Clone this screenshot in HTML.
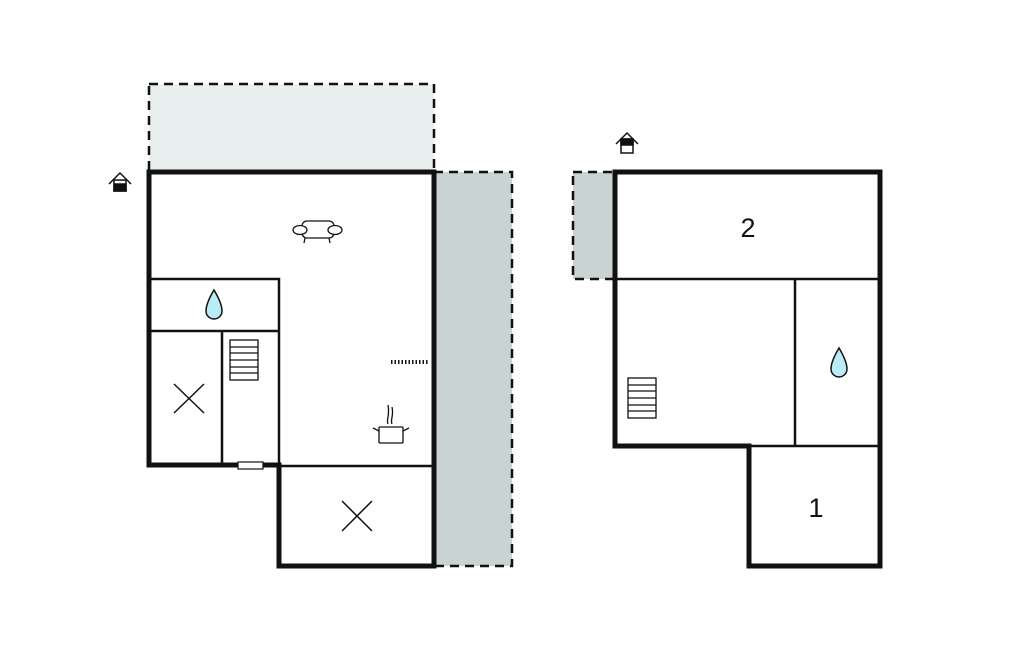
<!DOCTYPE html>
<html><head><meta charset="utf-8"><style>html,body{margin:0;padding:0;background:#fff}svg{display:block}</style></head>
<body>
<svg width="1024" height="652" viewBox="0 0 1024 652" xmlns="http://www.w3.org/2000/svg">
<rect width="1024" height="652" fill="#fff"/>
<!-- dashed areas -->
<rect x="149" y="84" width="285" height="88" fill="#e9eeee" stroke="#111" stroke-width="2.5" stroke-dasharray="9,6"/>
<rect x="434" y="172" width="78" height="394" fill="#c9d3d4" stroke="#111" stroke-width="2.5" stroke-dasharray="9,6"/>
<rect x="573" y="172" width="42" height="107" fill="#c9d3d4" stroke="#111" stroke-width="2.5" stroke-dasharray="9,6"/>
<g stroke="#111" fill="none" stroke-linecap="square">
<!-- left plan thin walls -->
<g stroke-width="2.5">
<path d="M149 279 H279 V465 M149 331 H279 M222 331 V465 M279 466 H434"/>
<path d="M615 279 H880 M795 279 V446 M749 446 H880"/>
</g>
<!-- thick walls -->
<g stroke-width="5">
<path d="M149 172 H434 V566 H279 V465 H149 Z"/>
<path d="M615 172 H880 V566 H749 V446 H615 Z"/>
</g>
</g>
<!-- door -->
<rect x="238" y="462" width="25" height="7" fill="#fff" stroke="#111" stroke-width="1.2"/>
<!-- dotted -->
<line x1="391" y1="362" x2="429" y2="362" stroke="#111" stroke-width="4" stroke-dasharray="1.5,2"/>
<!-- X marks -->
<g stroke="#111" stroke-width="1.5">
<path d="M174 384 L204 413 M204 384 L174 413"/>
<path d="M342 501 L372 531 M372 501 L342 531"/>
</g>
<!-- stairs -->
<g stroke="#111" stroke-width="1.3" fill="#fff">
<rect x="230" y="340" width="28" height="40"/>
<path d="M230 347 H258 M230 353 H258 M230 360 H258 M230 367 H258 M230 373 H258"/>
<rect x="628" y="378" width="28" height="40"/>
<path d="M628 385 H656 M628 391 H656 M628 398 H656 M628 405 H656 M628 411 H656"/>
</g>
<!-- drops -->
<g fill="#b9ecf4" stroke="#111" stroke-width="1.5">
<path d="M214 290 C208 300 206 306 206 311 A8 8 0 0 0 222 311 C222 306 220 300 214 290 Z"/>
<path d="M839 348 C833 358 831 364 831 369 A8 8 0 0 0 847 369 C847 364 845 358 839 348 Z"/>
</g>
<!-- sofa -->
<g stroke="#111" stroke-width="1.3" fill="#fff">
<rect x="302" y="221" width="32" height="17" rx="5"/>
<ellipse cx="300" cy="230" rx="7" ry="4.5"/>
<ellipse cx="335" cy="230" rx="7" ry="4.5"/>
<path d="M305 238 L304 243 M329 238 L330 243" fill="none"/>
</g>
<!-- pot -->
<g stroke="#111" stroke-width="1.3" fill="#fff">
<rect x="379" y="427" width="24" height="16" rx="1"/>
<path d="M379 431 L373 428 M403 431 L409 428 M388 424 C386 420 390 416 388 405 M392 424 C390 420 394 416 392 407" fill="none"/>
</g>
<!-- house icons -->
<g stroke="#111" stroke-width="1.5" fill="#fff">
<path d="M109 184 L120 173 L131 184" fill="none"/>
<rect x="114" y="180" width="12" height="11"/>
<rect x="114" y="184" width="12" height="7" fill="#111"/>
<path d="M616 144 L627 133 L638 144" fill="none"/>
<rect x="621" y="139" width="12" height="14"/>
<rect x="621" y="139" width="12" height="6" fill="#111"/>
</g>
<!-- labels -->
<text x="748" y="237" font-family="Liberation Sans, sans-serif" font-size="27" text-anchor="middle" fill="#111">2</text>
<text x="816" y="517" font-family="Liberation Sans, sans-serif" font-size="27" text-anchor="middle" fill="#111">1</text>
</svg>
</body></html>
